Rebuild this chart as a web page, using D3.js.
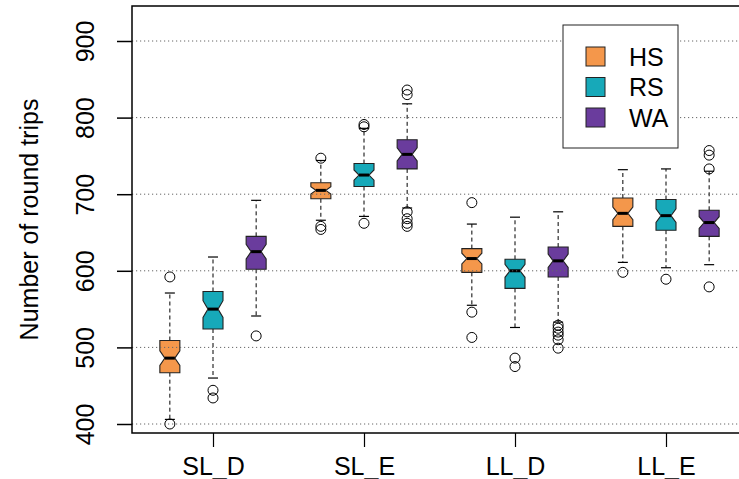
<!DOCTYPE html>
<html>
<head>
<meta charset="utf-8">
<script src="https://cdn.jsdelivr.net/npm/d3@7/dist/d3.min.js"></script>
<style>
  html, body { margin: 0; padding: 0; background: #fff; }
  svg { display: block; }
  text { font-family: "Liberation Sans", Arial, Helvetica, sans-serif; fill: #000; }
</style>
</head>
<body>
<svg id="chart" width="739" height="479"></svg>
<script>
// Scenarios on the x axis and the three strategies compared in each
const groups = ["SL_D", "SL_E", "LL_D", "LL_E"];
const series = ["HS", "RS", "WA"];
const colors = ["#F4974B", "#17A9B9", "#6A3C9D"];
const yTicks = [400, 500, 600, 700, 800, 900];
const runsPerBox = 50; // sample size used for the notch width

// Five-number summaries per strategy, one entry per scenario
const whiskerLow = {
  HS: [406, 666, 555, 611],
  RS: [460, 671, 526, 604],
  WA: [541, 682, 533, 608]
};
const quart1 = {
  HS: [467, 694, 598, 658],
  RS: [524, 710, 577, 653],
  WA: [602, 733, 592, 645]
};
const medians = {
  HS: [486, 705, 616, 675],
  RS: [550, 725, 600, 672],
  WA: [625, 752, 613, 663]
};
const quart3 = {
  HS: [509, 715, 629, 695],
  RS: [573, 740, 615, 693],
  WA: [645, 771, 631, 679]
};
const whiskerHigh = {
  HS: [571, 744, 661, 732],
  RS: [618, 786, 670, 733],
  WA: [692, 818, 677, 730]
};
const outliers = {
  HS: [[592, 400], [747, 658, 654], [689, 546, 513], [598]],
  RS: [[444, 434], [791, 788, 662], [486, 475], [589]],
  WA: [[515], [836, 830, 677, 668, 662, 658], [529, 525, 520, 516, 510, 499], [757, 751, 733, 579]]
};

const svg = d3.select("#chart");
const frame = { left: 132, top: 6, right: 745, bottom: 433 };

// Box slots: three per scenario, with a half-slot gap between scenarios
const slot = (g, s) => 1 + g * 3.5 + s;
const x = d3.scaleLinear().domain([2, 12.5]).range([213, 666]);
const y = d3.scaleLinear().domain([400, 900]).range([424, 41]);
const halfW = 10;

svg.append("rect").attr("width", 739).attr("height", 479).attr("fill", "#fff");

const gridLine = (sel, vals) => sel.selectAll(null).data(vals).enter().append("line")
  .attr("x1", frame.left).attr("x2", frame.right)
  .attr("y1", d => y(d)).attr("y2", d => y(d))
  .attr("stroke", "#666").attr("stroke-width", 1)
  .attr("stroke-dasharray", "1.2,2.8");

// Build box records
const boxes = [];
series.forEach((s, si) => {
  groups.forEach((g, gi) => {
    const iqr = quart3[s][gi] - quart1[s][gi];
    const notch = 1.58 * iqr / Math.sqrt(runsPerBox);
    boxes.push({
      cx: x(slot(gi, si)), color: colors[si],
      lo: whiskerLow[s][gi], q1: quart1[s][gi], med: medians[s][gi],
      q3: quart3[s][gi], hi: whiskerHigh[s][gi],
      nLo: medians[s][gi] - notch, nHi: medians[s][gi] + notch,
      out: outliers[s][gi]
    });
  });
});

const bx = svg.append("g");
boxes.forEach(b => {
  const g = bx.append("g");
  // dashed whiskers
  [[b.q3, b.hi], [b.q1, b.lo]].forEach(([a, c]) => {
    g.append("line").attr("x1", b.cx).attr("x2", b.cx)
      .attr("y1", y(a)).attr("y2", y(c))
      .attr("stroke", "#000").attr("stroke-width", 1).attr("stroke-dasharray", "4,3");
  });
  // staples
  [b.hi, b.lo].forEach(v => {
    g.append("line").attr("x1", b.cx - halfW / 2).attr("x2", b.cx + halfW / 2)
      .attr("y1", y(v)).attr("y2", y(v))
      .attr("stroke", "#000").attr("stroke-width", 1.2);
  });
  // notched box
  const pts = [
    [b.cx - halfW, y(b.q1)], [b.cx + halfW, y(b.q1)], [b.cx + halfW, y(b.nLo)],
    [b.cx + halfW / 2, y(b.med)], [b.cx + halfW, y(b.nHi)], [b.cx + halfW, y(b.q3)],
    [b.cx - halfW, y(b.q3)], [b.cx - halfW, y(b.nHi)], [b.cx - halfW / 2, y(b.med)],
    [b.cx - halfW, y(b.nLo)]
  ];
  g.append("polygon").attr("points", pts.map(p => p.join(",")).join(" "))
    .attr("fill", b.color).attr("stroke", "#222").attr("stroke-width", 1.1);
  // median
  g.append("line").attr("x1", b.cx - halfW / 2).attr("x2", b.cx + halfW / 2)
    .attr("y1", y(b.med)).attr("y2", y(b.med))
    .attr("stroke", "#000").attr("stroke-width", 3);
  // outliers
  g.selectAll("circle").data(b.out).enter().append("circle")
    .attr("cx", b.cx).attr("cy", d => y(d)).attr("r", 5)
    .attr("fill", "none").attr("stroke", "#000").attr("stroke-width", 1);
});

// Top gridline sits beneath the legend panel; the rest are drawn over everything
gridLine(svg.append("g"), yTicks.filter(v => v === 900));

// Legend
const leg = svg.append("g");
leg.append("rect").attr("x", 563).attr("y", 25).attr("width", 115).attr("height", 123)
  .attr("fill", "#fff").attr("stroke", "#222").attr("stroke-width", 1);

gridLine(svg.append("g"), yTicks.filter(v => v !== 900));

series.forEach((s, i) => {
  const cy = 56.5 + i * 30.5;
  leg.append("rect").attr("x", 586).attr("y", cy - 9.5).attr("width", 19).attr("height", 19)
    .attr("fill", colors[i]).attr("stroke", "#222").attr("stroke-width", 1);
  leg.append("text").attr("x", 629).attr("y", cy + 9).attr("font-size", 25).text(s);
});
leg.raise();

// Plot frame
svg.append("rect").attr("x", frame.left).attr("y", frame.top)
  .attr("width", frame.right - frame.left).attr("height", frame.bottom - frame.top)
  .attr("fill", "none").attr("stroke", "#000").attr("stroke-width", 1.5);

// Left axis with rotated tick labels
const yAxis = svg.append("g").attr("transform", `translate(${frame.left},0)`)
  .call(d3.axisLeft(y).tickValues(yTicks).tickSize(15).tickSizeOuter(0).tickFormat(d3.format("d")));
yAxis.select(".domain").remove();
yAxis.selectAll(".tick line").attr("stroke", "#000").attr("stroke-width", 1.5);
yAxis.selectAll(".tick text")
  .attr("x", null).attr("dy", null).attr("y", null)
  .attr("text-anchor", "middle")
  .attr("transform", "translate(-38,0) rotate(-90)")
  .attr("font-size", 25).attr("fill", "#000");

// Bottom axis at scenario centres
const xAxis = svg.append("g").attr("transform", `translate(0,${frame.bottom})`)
  .call(d3.axisBottom(x).tickValues(groups.map((g, i) => slot(i, 1)))
    .tickFormat((d, i) => groups[i]).tickSize(14).tickSizeOuter(0));
xAxis.select(".domain").remove();
xAxis.selectAll(".tick line").attr("stroke", "#000").attr("stroke-width", 1.2);
xAxis.selectAll(".tick text").attr("y", 42).attr("dy", null)
  .attr("font-size", 25).attr("fill", "#000");

svg.selectAll(".tick text").style("font-family", "'Liberation Sans', Arial, sans-serif");

// Y axis title
svg.append("text").attr("transform", `translate(38,${(frame.top + frame.bottom) / 2}) rotate(-90)`)
  .attr("text-anchor", "middle").attr("font-size", 25).text("Number of round trips");
</script>
</body>
</html>
